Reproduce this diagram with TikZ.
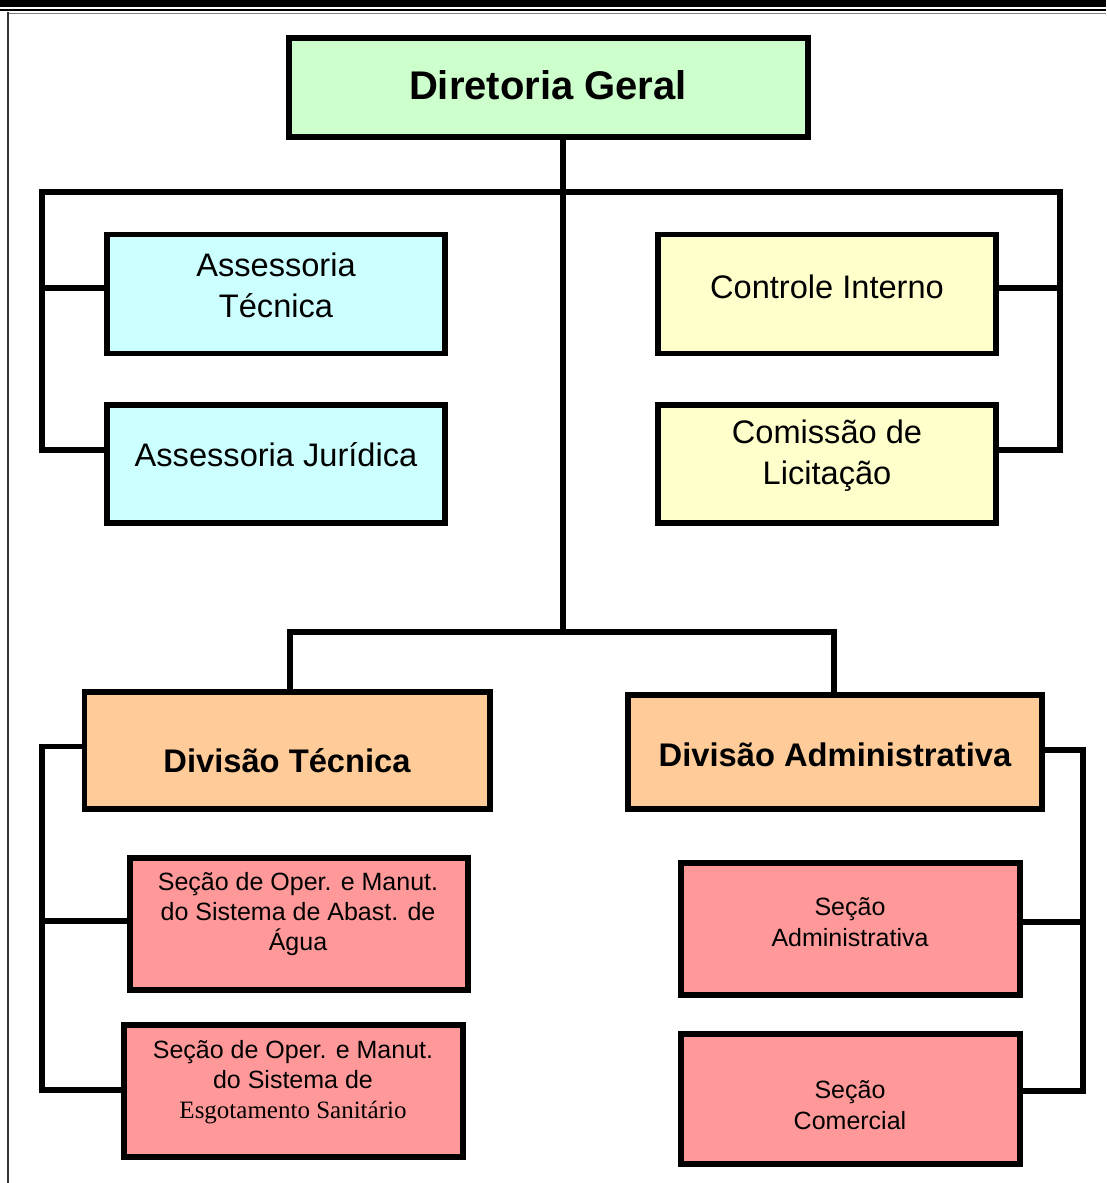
\documentclass[tikz,border=0pt]{standalone}
\usepackage{fontspec}
\setmainfont{Liberation Sans}
\newfontfamily\timesfont{Liberation Serif}
\begin{document}
\begin{tikzpicture}[x=1pt,y=-1pt,
  box/.style={draw=black,line width=5.5pt,inner sep=0pt,outer sep=0pt,rectangle},
  conn/.style={draw=black,line width=5.5pt,line join=miter,line cap=rect},
  lbl/.style={align=center,text=black,inner sep=0pt},
  big/.style={lbl,font=\fontsize{32.6}{41}\selectfont},
  bigb/.style={lbl,font=\fontsize{32.7}{41}\selectfont\bfseries},
  small/.style={lbl,font=\fontsize{25}{30}\selectfont},
  smaller/.style={lbl,font=\fontsize{25}{31}\selectfont}]
\useasboundingbox (0,0) rectangle (1106,1183);
\fill[white] (0,0) rectangle (1106,1183);
% page rules
\fill[black] (0,0) rectangle (1106,7);
\draw[black,line width=2pt] (0,10) -- (1106,10);
\draw[gray,line width=1pt] (8,13) -- (1106,13);
\draw[black!80,line width=2pt] (8,12) -- (8,1183);
% boxes
\node[box,fill={rgb,255:red,204;green,255;blue,204},minimum width=519pt,minimum height=99pt] (dg) at (548.5,87.5) {};
\node[box,fill={rgb,255:red,204;green,255;blue,255},minimum width=338pt,minimum height=119pt] (at) at (276,294) {};
\node[box,fill={rgb,255:red,204;green,255;blue,255},minimum width=338pt,minimum height=118pt] (aj) at (276,464) {};
\node[box,fill={rgb,255:red,255;green,255;blue,204},minimum width=338pt,minimum height=119pt] (ci) at (827,294) {};
\node[box,fill={rgb,255:red,255;green,255;blue,204},minimum width=338pt,minimum height=118pt] (cl) at (827,464) {};
\node[box,fill={rgb,255:red,255;green,204;blue,153},minimum width=405.5pt,minimum height=117pt] (dt) at (287.25,750.5) {};
\node[box,fill={rgb,255:red,255;green,204;blue,153},minimum width=414pt,minimum height=114pt] (da) at (835,752) {};
\node[box,fill={rgb,255:red,255;green,153;blue,153},minimum width=338pt,minimum height=132pt] (sa) at (299,924) {};
\node[box,fill={rgb,255:red,255;green,153;blue,153},minimum width=339pt,minimum height=132pt] (se) at (293.5,1091) {};
\node[box,fill={rgb,255:red,255;green,153;blue,153},minimum width=339pt,minimum height=132pt] (sad) at (850.5,929) {};
\node[box,fill={rgb,255:red,255;green,153;blue,153},minimum width=339pt,minimum height=130pt] (sc) at (850.5,1099) {};
% labels
\node[lbl,font=\fontsize{40}{44}\selectfont\bfseries] (tdg) at (548,85) {Diretoria Geral};
\node[big] (tat) at (276,285.5) {Assessoria\\Técnica};
\node[big] (taj) at (276,455) {Assessoria Jurídica};
\node[big] (tci) at (827,287) {Controle Interno};
\node[big] (tcl) at (827,455.5) {Comissão de\\Licitação};
\node[bigb] (tdt) at (287,761) {Divisão Técnica};
\node[bigb] (tda) at (835,755) {Divisão Administrativa};
\node[small] (tsa) at (298,914) {Seção de Oper. e Manut.\\do Sistema de Abast. de\\Água};
\node[small] (tse) at (293,1082) {Seção de Oper. e Manut.\\do Sistema de\\{\timesfont\fontsize{25}{30}\selectfont Esgotamento Sanitário}};
\node[smaller] (tsad) at (850,922.5) {Seção\\Administrativa};
\node[smaller] (tsc) at (850,1105) {Seção\\Comercial};
% junction coordinates
\coordinate (L0) at (42,192);
\coordinate (L1) at (42,288);
\coordinate (L2) at (42,450);
\coordinate (R0) at (1060,192);
\coordinate (R1) at (1060,288);
\coordinate (R2) at (1060,450);
\coordinate (S0) at (563,137);
\coordinate (S1) at (563,632);
\coordinate (B1) at (290,632);
\coordinate (B2) at (834,632);
\coordinate (D0) at (42,746.5);
\coordinate (D1) at (42,921);
\coordinate (D2) at (42,1090);
\coordinate (E0) at (1083,750);
\coordinate (E1) at (1083,922);
\coordinate (E2) at (1083,1091);
% connectors
\draw[conn] (dg.south -| S0) -- (S1);
\draw[conn] (at.west |- L1) -- (L1) -- (L0) -- (R0) -- (R1) -- (ci.east |- R1);
\draw[conn] (L1) -- (L2) -- (aj.west |- L2);
\draw[conn] (R1) -- (R2) -- (cl.east |- R2);
\draw[conn] (dt.north -| B1) -- (B1) -- (B2) -- (da.north -| B2);
\draw[conn] (dt.west |- D0) -- (D0) -- (D2) -- (se.west |- D2);
\draw[conn] (D1) -- (sa.west |- D1);
\draw[conn] (da.east |- E0) -- (E0) -- (E2) -- (sc.east |- E2);
\draw[conn] (E1) -- (sad.east |- E1);
\end{tikzpicture}
\end{document}
